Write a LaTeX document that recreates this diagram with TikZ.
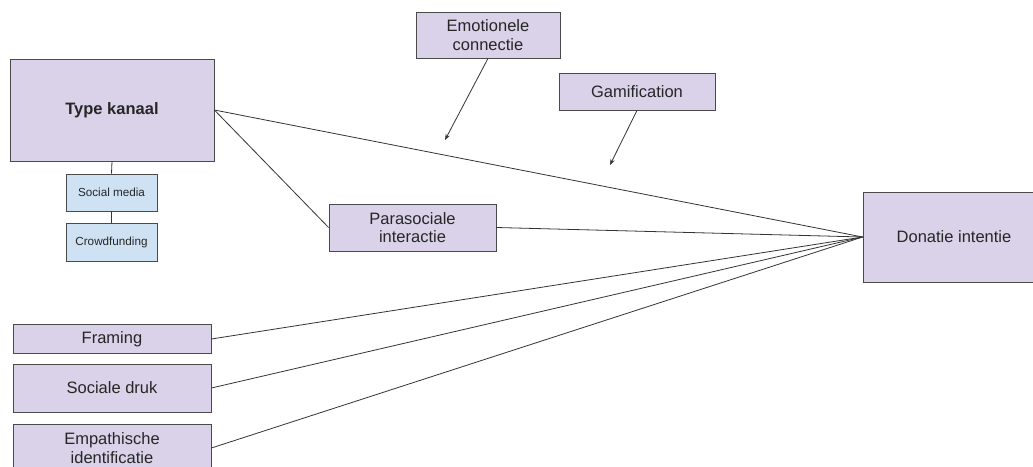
\documentclass[tikz,border=0pt]{standalone}
\usepackage{fontspec}
\setmainfont{Liberation Sans}
\usepackage{tikz}
\usetikzlibrary{arrows.meta,positioning}
\definecolor{lila}{HTML}{D9D2E9}
\definecolor{lichtblauw}{HTML}{CFE2F3}
\definecolor{rand}{HTML}{4A4A4A}
\definecolor{lijn}{HTML}{333333}

\begin{document}
\begin{tikzpicture}[x=1pt,y=-1pt,
  blok/.style={draw=rand,fill=lila,line width=0.8pt,inner sep=0pt,align=center,
    text=black!85,font=\fontsize{16.5}{18.5}\selectfont},
  klein/.style={draw=rand,fill=lichtblauw,line width=0.8pt,inner sep=0pt,
    minimum width=91pt,text=black!85,font=\fontsize{11.7}{13}\selectfont},
  pijl/.style={lijn,line width=0.8pt,-{Stealth[length=6pt,width=4.5pt]}},
  verb/.style={lijn,line width=0.8pt}]
  \useasboundingbox (0,0) rectangle (1033,466);
  % linkerkant
  \node[blok,minimum width=204pt,minimum height=102pt,font=\fontsize{16.5}{18.5}\selectfont\bfseries] (kanaal) at (112,110) {Type kanaal};
  \node[klein,minimum height=37pt] (social) at (111.5,192.5) {Social media};
  \node[klein,minimum height=38pt] (crowd) at (111.5,242) {Crowdfunding};
  \node[blok,minimum width=198pt,minimum height=29pt] (framing) at (112,339) {Framing};
  \node[blok,minimum width=198pt,minimum height=48pt] (druk) at (112,388) {Sociale druk};
  \node[blok,minimum width=198pt,minimum height=48pt] (empathie) at (112,448) {Empathische\\identificatie};
  % midden en rechts
  \node[blok,minimum width=144pt,minimum height=46pt] (emotie) at (488,35) {Emotionele\\connectie};
  \node[blok,minimum width=156pt,minimum height=37pt] (gamif) at (637,91.5) {Gamification};
  \node[blok,minimum width=167pt,minimum height=47pt] (paras) at (412.5,227.5) {Parasociale\\interactie};
  \node[blok,minimum width=182pt,minimum height=90pt] (donatie) at (954,237) {Donatie intentie};
  \coordinate (emotiepunt) at (445,140);
  \coordinate (gamifpunt) at (610,165);

  \draw[verb] (kanaal.south) -- (social.north);
  \draw[verb] (social.south) -- (crowd.north);
  \draw[verb] (kanaal.east) -- (donatie.west);
  \draw[verb] (kanaal.east) -- (paras.west);
  \draw[verb] (paras.east) -- (donatie.west);
  \draw[verb] (framing.east) -- (donatie.west);
  \draw[verb] (druk.east) -- (donatie.west);
  \draw[verb] (empathie.east) -- (donatie.west);
  \draw[pijl] (emotie.south) -- (emotiepunt);
  \draw[pijl] (gamif.south) -- (gamifpunt);
\end{tikzpicture}
\end{document}
